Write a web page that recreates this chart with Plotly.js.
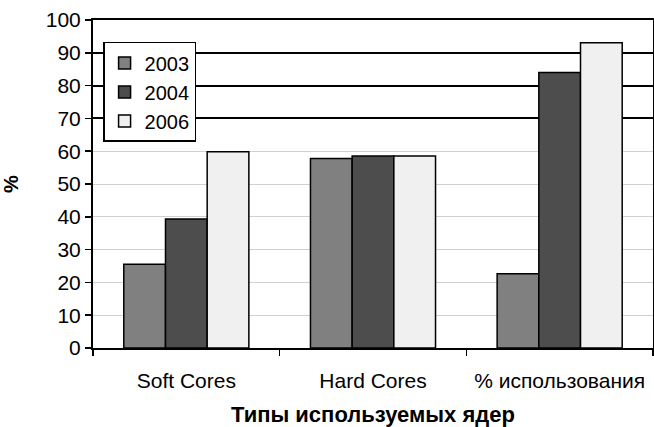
<!DOCTYPE html>
<html>
<head>
<meta charset="utf-8">
<script src="https://cdn.plot.ly/plotly-3.0.1.min.js"></script>
<style>html,body{margin:0;padding:0;background:#fff}#chart{width:654px;height:427px}</style>
</head>
<body>
<div id="chart"></div>
<script>
var categories = ["Soft Cores", "Hard Cores", "% использования"];
var seriesNames = ["2003", "2004", "2006"];
var values2003 = [25.5, 57.8, 22.6];
var values2004 = [39.3, 58.5, 84.0];
var values2006 = [59.8, 58.5, 93.1];
var colors = ["#808080", "#4d4d4d", "#f0f0f0"];
var yTicks = [0, 10, 20, 30, 40, 50, 60, 70, 80, 90, 100];
var darkGrid = [70, 80, 90, 100];

var allValues = [values2003, values2004, values2006];
var traces = allValues.map(function (v, i) {
  return {
    type: "bar",
    name: seriesNames[i],
    legendgroup: "g" + i,
    x: categories,
    y: v,
    marker: { color: colors[i], line: { color: "#000", width: 1.5 } },
    hoverinfo: "none"
  };
});
traces.push({
  type: "scatter", x: [categories[0]], y: [0], yaxis: "y2",
  mode: "markers", marker: { opacity: 0 }, showlegend: false, hoverinfo: "none"
});

var font = "Liberation Sans, Arial, sans-serif";
var layout = {
  width: 654, height: 427,
  margin: { l: 93, r: 1, t: 20, b: 79 },
  paper_bgcolor: "#fff", plot_bgcolor: "#fff",
  barmode: "group", bargap: 0.33, bargroupgap: 0,
  font: { family: font, size: 20, color: "#000" },
  showlegend: true,
  legend: {
    x: 0.018, y: 0.933, xanchor: "left", yanchor: "top",
    bgcolor: "#fff", bordercolor: "#000", borderwidth: 1.5,
    font: { family: font, size: 20, color: "#000" },
    traceorder: "grouped", tracegroupgap: 0,
    itemwidth: 30
  },
  xaxis: {
    type: "category",
    showline: true, linecolor: "#000", linewidth: 2, mirror: true,
    ticks: "outside", ticklen: 6, tickwidth: 1.5, tickcolor: "#000",
    tickson: "boundaries", ticklabelstandoff: 13,
    showgrid: false,
    tickfont: { family: font, size: 21 },
    title: { text: "<b>Типы используемых ядер</b>", font: { family: font, size: 22 }, standoff: 17 }
  },
  yaxis: {
    range: [0, 100], tickvals: yTicks,
    showline: true, linecolor: "#000", linewidth: 2, mirror: true,
    ticks: "outside", ticklen: 6, tickwidth: 1.5, tickcolor: "#000",
    showgrid: true, gridcolor: "#d0d0d0", gridwidth: 1,
    zeroline: false,
    tickfont: { family: font, size: 21 },
    title: { text: "<b>%</b>", font: { family: font, size: 20 }, standoff: 24 }
  },
  yaxis2: {
    overlaying: "y", range: [0, 100], tickvals: darkGrid,
    showticklabels: false, ticks: "", showline: false,
    showgrid: true, gridcolor: "#000", gridwidth: 2, zeroline: false
  }
};

Plotly.newPlot("chart", traces, layout, { displayModeBar: false, staticPlot: true });
</script>
</body>
</html>
